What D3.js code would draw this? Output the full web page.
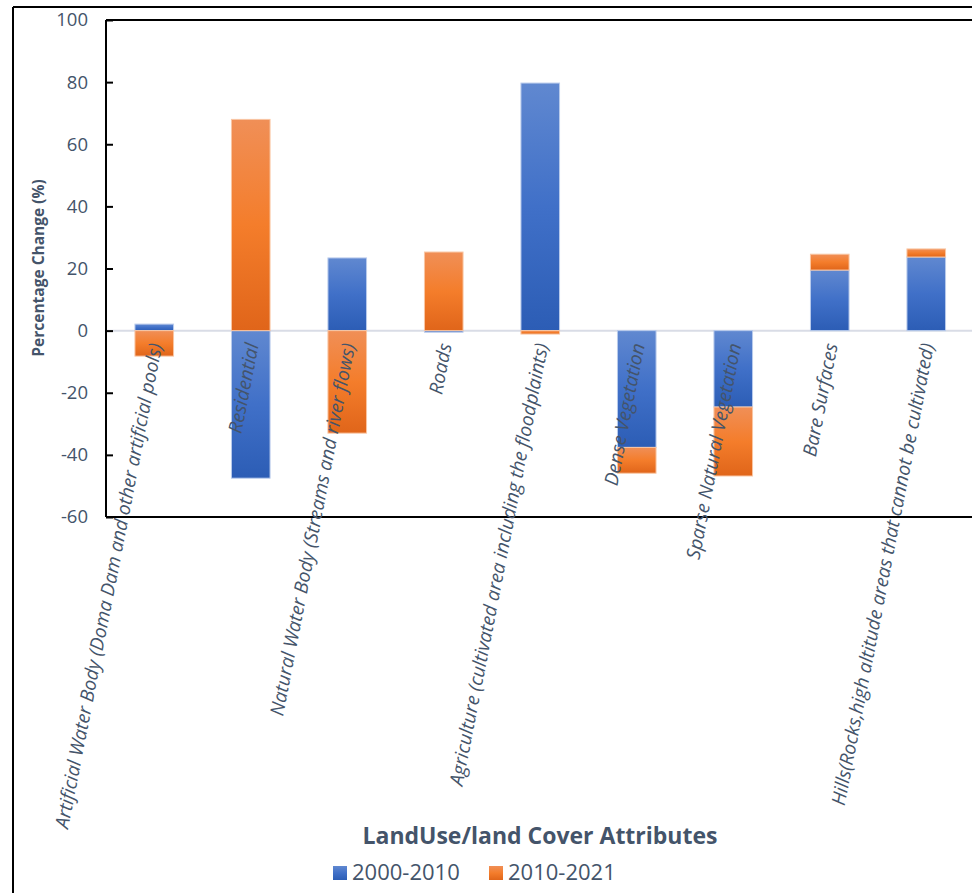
<!DOCTYPE html>
<html>
<head>
<meta charset="utf-8">
<script src="https://cdn.jsdelivr.net/npm/d3@7"></script>
<style>
  html, body { margin: 0; padding: 0; background: #fff; }
  svg { display: block; }
  text { font-family: "Open Sans", "DejaVu Sans", sans-serif; fill: #44546a; }
</style>
</head>
<body>
<svg id="chart" width="972" height="893"></svg>
<script>
// Land use / land cover categories
const categories = [
  "Artificial Water Body (Doma Dam and other artificial pools)",
  "Residential",
  "Natural Water Body (Streams and river flows)",
  "Roads",
  "Agriculture (cultivated area including the floodplaints)",
  "Dense Vegetation",
  "Sparse Natural Vegetation",
  "Bare Surfaces",
  "Hills(Rocks,high altitude areas that cannot be cultivated)"
];

// Percentage change per period
const seriesNames = ["2000-2010", "2010-2021"];
const change2000_2010 = [2.1, -47.5, 23.4, -0.5, 79.7, -37.6, -24.6, 19.5, 23.7];
const change2010_2021 = [-8.2, 68.0, -33.0, 25.3, -1.1, -8.3, -22.2, 5.1, 2.6];

const yTicks = [100, 80, 60, 40, 20, 0, -20, -40, -60];

const rows = categories.map((c, i) => ({
  category: c,
  "2000-2010": change2000_2010[i],
  "2010-2021": change2010_2021[i]
}));

const svg = d3.select("#chart");

// Outer chart frame (left and top edges visible)
svg.append("line").attr("x1", 13).attr("x2", 13).attr("y1", 7).attr("y2", 893)
  .attr("stroke", "#000").attr("stroke-width", 2);
svg.append("line").attr("x1", 13).attr("x2", 972).attr("y1", 7).attr("y2", 7)
  .attr("stroke", "#000").attr("stroke-width", 2);

const plot = { left: 106, right: 974.5, top: 20, bottom: 517 };

const x = d3.scaleBand()
  .domain(categories)
  .range([plot.left, plot.right])
  .paddingInner(0.6)
  .paddingOuter(0.3);

const y = d3.scaleLinear().domain([-60, 100]).range([plot.bottom, plot.top]);

const strokes = { "2000-2010": "#b9cbec", "2010-2021": "#f9c6a3" };

// Vertical gradient fills for the bars
const defs = svg.append("defs");
const gradStops = {
  "2000-2010": [["0%", "#6088d0"], ["50%", "#4070c8"], ["100%", "#2c5db5"]],
  "2010-2021": [["0%", "#f08f57"], ["50%", "#f47d2b"], ["100%", "#e0651a"]]
};
seriesNames.forEach((s, i) => {
  const g = defs.append("linearGradient").attr("id", "grad" + i)
    .attr("x1", 0).attr("y1", 0).attr("x2", 0).attr("y2", 1);
  gradStops[s].forEach(([o, c]) => g.append("stop").attr("offset", o).attr("stop-color", c));
});

// Zero line
svg.append("line")
  .attr("x1", plot.left).attr("x2", 972)
  .attr("y1", y(0)).attr("y2", y(0))
  .attr("stroke", "#d9dce6").attr("stroke-width", 2);

// Stacked bars, positives up and negatives down
const stacked = d3.stack().keys(seriesNames).offset(d3.stackOffsetDiverging)(rows);

svg.append("g").selectAll("g")
  .data(stacked)
  .join("g")
  .attr("fill", (d, i) => `url(#grad${i})`)
  .attr("stroke", d => strokes[d.key])
  .attr("stroke-width", 1)
  .selectAll("rect")
  .data(d => d)
  .join("rect")
  .attr("x", d => x(d.data.category))
  .attr("width", x.bandwidth())
  .attr("y", d => y(Math.max(d[0], d[1])))
  .attr("height", d => Math.abs(y(d[0]) - y(d[1])));

// Plot frame
const frame = svg.append("g").attr("stroke", "#000").attr("stroke-width", 2);
frame.append("line").attr("x1", plot.left).attr("x2", plot.left).attr("y1", plot.top).attr("y2", plot.bottom);
frame.append("line").attr("x1", plot.left).attr("x2", 980).attr("y1", plot.top).attr("y2", plot.top);
frame.append("line").attr("x1", plot.left).attr("x2", 980).attr("y1", plot.bottom).attr("y2", plot.bottom);

// Y axis ticks and labels
const yAxis = d3.axisRight(y).tickValues(yTicks).tickSize(7).tickFormat("");
const yg = svg.append("g").attr("transform", `translate(${plot.left},0)`).call(yAxis);
yg.select(".domain").remove();
yg.selectAll(".tick line").attr("stroke", "#000").attr("stroke-width", 2);

svg.append("g").selectAll("text")
  .data(yTicks)
  .join("text")
  .attr("x", 88)
  .attr("y", d => y(d))
  .attr("dy", "0.35em")
  .attr("text-anchor", "end")
  .style("font-size", "18.5px")
  .text(d => d);

// Y axis title
svg.append("text")
  .attr("transform", `translate(44,268) rotate(-90)`)
  .attr("text-anchor", "middle")
  .style("font-size", "15.5px")
  .style("font-weight", "bold")
  .text("Percentage Change (%)");

// Category labels, slanted, ending next to the zero line
svg.append("g").selectAll("text")
  .data(categories)
  .join("text")
  .attr("transform", d => `translate(${x(d) + x.bandwidth() / 2 + 8},${y(0) + 14}) rotate(-79)`)
  .attr("text-anchor", "end")
  .style("font-size", "19px")
  .style("font-style", "italic")
  .text(d => d);

// X axis title
svg.append("text")
  .attr("x", 540).attr("y", 844)
  .attr("text-anchor", "middle")
  .style("font-size", "23px")
  .style("font-weight", "bold")
  .text("LandUse/land Cover Attributes");

// Legend
const legendItems = [
  { name: seriesNames[0], x: 333 },
  { name: seriesNames[1], x: 489 }
];
const lg = svg.append("g").selectAll("g").data(legendItems).join("g")
  .attr("transform", d => `translate(${d.x},866)`);
lg.append("rect").attr("width", 14).attr("height", 14)
  .attr("fill", (d, i) => `url(#grad${i})`);
lg.append("text").attr("x", 19).attr("y", 14)
  .style("font-size", "22px")
  .text(d => d.name);
</script>
</body>
</html>
